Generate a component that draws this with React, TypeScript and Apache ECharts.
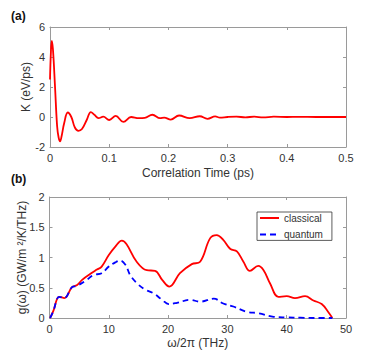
import React, { useEffect, useRef } from "react";
import * as echarts from "echarts";

// (a) correlation function K(t)
const timePs = [0, 0.0015, 0.003, 0.005, 0.0085, 0.012, 0.0145, 0.017, 0.0195, 0.024, 0.03, 0.036, 0.042, 0.048, 0.054, 0.062, 0.069, 0.075, 0.082, 0.09, 0.1, 0.111, 0.124, 0.137, 0.15, 0.16, 0.173, 0.186, 0.193, 0.204, 0.218, 0.236, 0.253, 0.266, 0.279, 0.287, 0.3, 0.315, 0.33, 0.345, 0.36, 0.378, 0.4, 0.42, 0.45, 0.5];
const kValues = [2.5, 4.3, 5.08, 4.5, 2.0, -0.6, -1.35, -1.62, -1.3, -0.4, 0.3, 0.0, -0.7, -0.92, -0.8, -0.2, 0.33, 0.15, -0.08, 0.02, -0.2, 0.07, -0.33, 0.0, -0.08, -0.06, 0.15, -0.08, -0.04, -0.17, 0.1, -0.08, 0.05, -0.12, 0.04, -0.04, 0.0, 0.02, -0.02, 0.02, -0.03, 0.02, 0.0, 0.01, 0.0, 0.0];

// (b) spectral conductance
const freqClassical = [0.1, 0.7, 1.25, 1.6, 2.5, 3.8, 4.6, 5.5, 6.9, 8.0, 8.8, 10.0, 11.1, 12.2, 13.0, 14.7, 16.4, 17.8, 19.0, 20.2, 22.0, 24.0, 25.4, 27.1, 28.2, 29.3, 30.5, 31.6, 32.7, 33.8, 35.2, 36.1, 37.2, 38.6, 40.0, 41.4, 43.1, 44.5, 45.9, 47.0, 47.7];
const gClassical = [0, 0.13, 0.31, 0.35, 0.33, 0.51, 0.54, 0.63, 0.73, 0.8, 0.85, 1.04, 1.18, 1.28, 1.22, 0.93, 0.79, 0.78, 0.63, 0.52, 0.74, 0.89, 0.93, 1.32, 1.37, 1.29, 1.14, 1.1, 0.93, 0.78, 0.86, 0.79, 0.57, 0.35, 0.36, 0.33, 0.36, 0.29, 0.23, 0.1, 0.0];
const freqQuantum = [0.1, 0.7, 1.25, 1.6, 2.5, 3.8, 4.6, 6.3, 7.4, 8.8, 10.0, 11.1, 11.9, 12.8, 13.6, 14.7, 16.1, 17.5, 19.0, 20.1, 21.5, 23.7, 25.4, 27.7, 29.3, 31.0, 33.3, 35.2, 37.8, 40.0, 42.3, 45.0, 47.7];
const gQuantum = [0, 0.13, 0.31, 0.35, 0.33, 0.51, 0.53, 0.63, 0.71, 0.74, 0.85, 0.92, 0.95, 0.88, 0.71, 0.58, 0.47, 0.41, 0.3, 0.23, 0.25, 0.3, 0.27, 0.32, 0.24, 0.19, 0.1, 0.08, 0.02, 0.01, 0.005, 0.0, 0.0];

const xTicksTop = [0, 0.1, 0.2, 0.3, 0.4, 0.5];
const yTicksTop = [-2, 0, 2, 4, 6];
const xTicksBottom = [0, 10, 20, 30, 40, 50];
const yTicksBottom = [0, 0.5, 1, 1.5, 2];

const FONT = "'Liberation Sans', Arial, Helvetica, sans-serif";
const TEXT = "#333333";
const AXIS = "#9a9a9a";

function zip(xs: number[], ys: number[]) {
  return xs.map((x, i) => [x, ys[i]]);
}

function mainAxis(extra: any) {
  return {
    type: "value",
    splitLine: { show: false },
    axisLine: { show: true, onZero: false, lineStyle: { color: AXIS, width: 1 } },
    axisTick: { show: true, inside: true, length: 3, lineStyle: { color: AXIS } },
    axisLabel: { color: TEXT, fontSize: 11, fontFamily: FONT, margin: 5 },
    nameTextStyle: { color: TEXT, fontSize: 12, fontFamily: FONT },
    nameMoveOverlap: false,
    ...extra,
  };
}
function mirrorAxis(extra: any) {
  return {
    type: "value",
    splitLine: { show: false },
    axisLine: { show: true, onZero: false, lineStyle: { color: AXIS, width: 1 } },
    axisTick: { show: true, inside: true, length: 3, lineStyle: { color: AXIS } },
    axisLabel: { show: false },
    ...extra,
  };
}

export default function App() {
  const ref = useRef<HTMLDivElement>(null);
  useEffect(() => {
    if (!ref.current) return;
    const chart = echarts.init(ref.current, null, { renderer: "svg" });
    const tb = (ticks: number[]) => ({ min: ticks[0], max: ticks[ticks.length - 1], interval: ticks[1] - ticks[0] });
    chart.setOption({
      animation: false,
      backgroundColor: "#ffffff",
      grid: [
        { left: 50, top: 27, width: 296, height: 120 },
        { left: 49.5, top: 197, width: 296.5, height: 121 },
      ],
      xAxis: [
        mainAxis({ gridIndex: 0, position: "bottom", ...tb(xTicksTop), name: "Correlation Time (ps)", nameLocation: "middle", nameGap: 20 }),
        mirrorAxis({ gridIndex: 0, position: "top", ...tb(xTicksTop) }),
        mainAxis({ gridIndex: 1, position: "bottom", ...tb(xTicksBottom), name: "ω/2π (THz)", nameLocation: "middle", nameGap: 19 }),
        mirrorAxis({ gridIndex: 1, position: "top", ...tb(xTicksBottom) }),
      ],
      yAxis: [
        mainAxis({ gridIndex: 0, position: "left", ...tb(yTicksTop), name: "K (eV/ps)", nameLocation: "middle", nameGap: 18.5 }),
        mirrorAxis({ gridIndex: 0, position: "right", ...tb(yTicksTop) }),
        mainAxis({ gridIndex: 1, position: "left", ...tb(yTicksBottom), name: "g(ω) (GW/m ²/K/THz)", nameLocation: "middle", nameGap: 21.5 }),
        mirrorAxis({ gridIndex: 1, position: "right", ...tb(yTicksBottom) }),
      ],
      legend: {
        orient: "vertical",
        left: 257,
        top: 212,
        padding: [1, 9, 1, 2],
        itemWidth: 19,
        itemHeight: 8,
        itemGap: 6.4,
        backgroundColor: "#ffffff",
        borderColor: "#333333",
        borderWidth: 0.8,
        itemStyle: { opacity: 0 },
        textStyle: { color: TEXT, fontSize: 10, fontFamily: FONT },
        data: ["classical", "quantum"],
      },
      graphic: [
        { type: "text", left: 11, top: 10, style: { text: "(a)", fill: "#111", font: `bold 12px ${FONT}` } },
        { type: "text", left: 11, top: 173, style: { text: "(b)", fill: "#111", font: `bold 12px ${FONT}` } },
      ],
      series: [
        {
          name: "K",
          type: "line",
          xAxisIndex: 0,
          yAxisIndex: 0,
          data: zip(timePs, kValues),
          smooth: 0.4,
          showSymbol: false,
          symbol: "none",
          lineStyle: { color: "#ff0000", width: 1.8 },
        },
        {
          name: "classical",
          type: "line",
          xAxisIndex: 2,
          yAxisIndex: 2,
          data: zip(freqClassical, gClassical),
          smooth: 0.4,
          symbol: "none",
          itemStyle: { color: "#ff0000" },
          lineStyle: { color: "#ff0000", width: 1.8 },
        },
        {
          name: "quantum",
          type: "line",
          xAxisIndex: 2,
          yAxisIndex: 2,
          data: zip(freqQuantum, gQuantum),
          smooth: 0.4,
          symbol: "none",
          itemStyle: { color: "#0000ff" },
          lineStyle: { color: "#0000ff", width: 1.8, type: [6, 4] },
        },
      ],
    });
    return () => chart.dispose();
  }, []);
  return <div ref={ref} style={{ position: "absolute", left: 0, top: 0, width: 382, height: 360 }} />;
}
